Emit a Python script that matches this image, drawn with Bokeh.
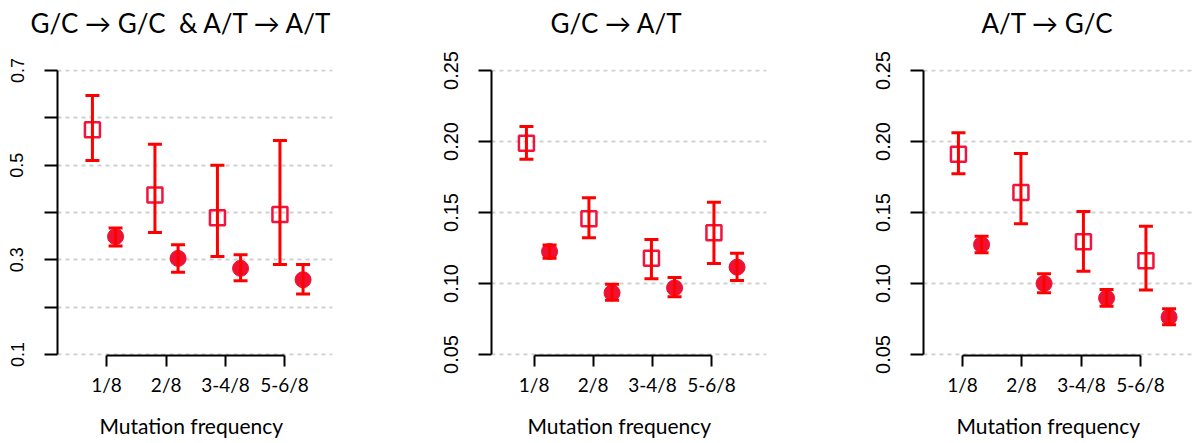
from bokeh.plotting import figure
from bokeh.layouts import row
from bokeh.models import (FixedTicker, Whisker, TeeHead, ColumnDataSource,
                          PrintfTickFormatter, Range1d, Title)
from bokeh.embed import file_html
from bokeh.resources import INLINE

# ---------------- data ----------------
categories = ["1/8", "2/8", "3-4/8", "5-6/8"]
titles = ["G/C \u2192 G/C \u00a0& A/T \u2192 A/T", "G/C \u2192 A/T", "A/T \u2192 G/C"]
x_title = "Mutation frequency"

# panel 1 : G/C -> G/C & A/T -> A/T
p1_sq_mean = [0.575, 0.437, 0.389, 0.396]
p1_sq_lo = [0.510, 0.358, 0.307, 0.290]
p1_sq_hi = [0.647, 0.544, 0.500, 0.552]
p1_ci_mean = [0.349, 0.303, 0.282, 0.258]
p1_ci_lo = [0.329, 0.274, 0.256, 0.228]
p1_ci_hi = [0.367, 0.332, 0.311, 0.290]

# panel 2 : G/C -> A/T
p2_sq_mean = [0.1988, 0.1456, 0.1178, 0.1357]
p2_sq_lo = [0.1875, 0.1322, 0.1033, 0.1141]
p2_sq_hi = [0.2106, 0.1603, 0.1310, 0.1573]
p2_ci_mean = [0.1225, 0.0934, 0.0969, 0.1115]
p2_ci_lo = [0.1178, 0.0882, 0.0906, 0.1021]
p2_ci_hi = [0.1272, 0.0995, 0.1042, 0.1213]

# panel 3 : A/T -> G/C
p3_sq_mean = [0.1911, 0.1641, 0.1294, 0.1160]
p3_sq_lo = [0.1773, 0.1420, 0.1087, 0.0955]
p3_sq_hi = [0.2061, 0.1915, 0.1507, 0.1404]
p3_ci_mean = [0.1273, 0.1000, 0.0897, 0.0763]
p3_ci_lo = [0.1216, 0.0934, 0.0840, 0.0709]
p3_ci_hi = [0.1333, 0.1068, 0.0958, 0.0822]

p1_yticks = [0.1, 0.3, 0.5, 0.7]
p1_yminor = [0.2, 0.4, 0.6]
p23_yticks = [0.05, 0.10, 0.15, 0.20, 0.25]

# ---------------- layout / style ----------------
H = 443
FRAME_TOP = 69
FRAME_H = 286       # 284 px between the end ticks + 1 px padding each side
PXU = 62.5          # pixels per x unit
X0 = 0.256          # x range start
OFF = 0.185         # half distance between the two markers in a group
RED = "#FF0000"
SQ_COL = "#F2143C"
CI_COL = "#EE1131"
GRID_COL = "#D0D0D0"
SANS = "Liberation Sans"
CAL = "Lato"

panels = [
    dict(width=400, left=57, frame_w=275, xticks=[1.040, 1.995, 2.944, 3.888],
         y=(0.1, 0.7), major=p1_yticks, minor=p1_yminor, fmt="%.1f", ylab="18px", ystand=21,
         t_off=-27, xl_off=42,
         data=(p1_sq_mean, p1_sq_lo, p1_sq_hi, p1_ci_mean, p1_ci_lo, p1_ci_hi)),
    dict(width=394, left=91, frame_w=275, xticks=[0.938, 1.882, 2.832, 3.776],
         y=(0.05, 0.25), major=p23_yticks, minor=[], fmt="%.2f", ylab="20px", ystand=21,
         t_off=59, xl_off=36,
         data=(p2_sq_mean, p2_sq_lo, p2_sq_hi, p2_ci_mean, p2_ci_lo, p2_ci_hi)),
    dict(width=400, left=129, frame_w=271, xticks=[0.880, 1.824, 2.784, 3.728],
         y=(0.05, 0.25), major=p23_yticks, minor=[], fmt="%.2f", ylab="20px", ystand=21,
         t_off=58, xl_off=33,
         data=(p3_sq_mean, p3_sq_lo, p3_sq_hi, p3_ci_mean, p3_ci_lo, p3_ci_hi)),
]


def make_panel(cfg, title):
    y0, y1 = cfg["y"]
    pad = (y1 - y0) / 284.0
    right = cfg["width"] - cfg["left"] - cfg["frame_w"]
    p = figure(width=cfg["width"], height=H, output_backend="svg", toolbar_location=None,
               title=None,
               x_range=Range1d(X0, X0 + cfg["frame_w"] / PXU),
               y_range=Range1d(y0 - pad, y1 + pad),
               min_border_left=cfg["left"], min_border_right=right,
               min_border_top=FRAME_TOP, min_border_bottom=H - FRAME_TOP - FRAME_H,
               background_fill_color="white", border_fill_color="white")
    p.outline_line_color = None
    p.xgrid.visible = False
    p.ygrid.ticker = FixedTicker(ticks=sorted(cfg["major"] + cfg["minor"]))
    p.ygrid.grid_line_color = GRID_COL
    p.ygrid.grid_line_dash = "4 4"
    p.ygrid.grid_line_width = 2

    # title: a blank spacer next to the frame, then the real title further out
    p.add_layout(Title(text=" ", text_font=CAL, text_font_size="23px", standoff=0), "above")
    p.add_layout(Title(text=title, align="left", offset=cfg["t_off"], vertical_align="middle",
                       text_font=CAL, text_font_size="26px", text_font_style="normal",
                       text_color="black", standoff=0), "above")

    # y axis
    ya = p.yaxis[0]
    ya.ticker = FixedTicker(ticks=cfg["major"], minor_ticks=cfg["minor"])
    ya.formatter = PrintfTickFormatter(format=cfg["fmt"])
    ya.bounds = (y0, y1)
    ya.axis_line_width = 2
    ya.major_tick_line_width = 2
    ya.minor_tick_line_width = 2
    ya.major_tick_in = 0
    ya.major_tick_out = 13
    ya.minor_tick_in = 0
    ya.minor_tick_out = 13
    ya.major_label_orientation = "vertical"
    ya.major_label_text_font = SANS
    ya.major_label_text_font_size = cfg["ylab"]
    ya.major_label_text_color = "black"
    ya.major_label_standoff = cfg["ystand"]

    # x axis
    xa = p.xaxis[0]
    xa.ticker = FixedTicker(ticks=cfg["xticks"])
    xa.major_label_overrides = {t: c for t, c in zip(cfg["xticks"], categories)}
    xa.bounds = (cfg["xticks"][0], cfg["xticks"][-1])
    xa.axis_line_width = 2
    xa.major_tick_line_width = 2
    xa.major_tick_in = 0
    xa.major_tick_out = 11
    xa.minor_tick_line_color = None
    xa.major_label_text_font = CAL
    xa.major_label_text_font_size = "19px"
    xa.major_label_text_color = "black"
    xa.major_label_standoff = 6
    # blank spacer label to push the axis title down
    xa.axis_label = " "
    xa.axis_label_text_font_size = "1px"
    xa.axis_label_standoff = 10

    # x axis title, placed below the axis
    p.add_layout(Title(text=x_title, align="left", offset=cfg["xl_off"], vertical_align="top",
                       text_font=CAL, text_font_size="21px", text_font_style="normal",
                       text_color="black", standoff=0), "below")

    sq_mean, sq_lo, sq_hi, ci_mean, ci_lo, ci_hi = cfg["data"]
    idx = list(range(1, len(categories) + 1))
    sq_x = [i - OFF for i in idx]
    ci_x = [i + OFF for i in idx]
    src_sq = ColumnDataSource(dict(x=sq_x, y=sq_mean, lo=sq_lo, hi=sq_hi))
    src_ci = ColumnDataSource(dict(x=ci_x, y=ci_mean, lo=ci_lo, hi=ci_hi))

    p.scatter("x", "y", source=src_sq, marker="square", size=15, fill_color=None,
              line_color=SQ_COL, line_width=2.5)
    p.scatter("x", "y", source=src_ci, marker="circle", size=16, fill_color=CI_COL,
              line_color=CI_COL, line_width=1)
    for src in (src_sq, src_ci):
        w = Whisker(source=src, base="x", lower="lo", upper="hi", dimension="height",
                    line_color=RED, line_width=3,
                    upper_head=TeeHead(size=14, line_color=RED, line_width=3),
                    lower_head=TeeHead(size=14, line_color=RED, line_width=3),
                    level="glyph")
        p.add_layout(w)
    return p


figs = [make_panel(cfg, t) for cfg, t in zip(panels, titles)]
layout = row(*figs, spacing=0)
open("out.html", "w").write(file_html(layout, INLINE))
